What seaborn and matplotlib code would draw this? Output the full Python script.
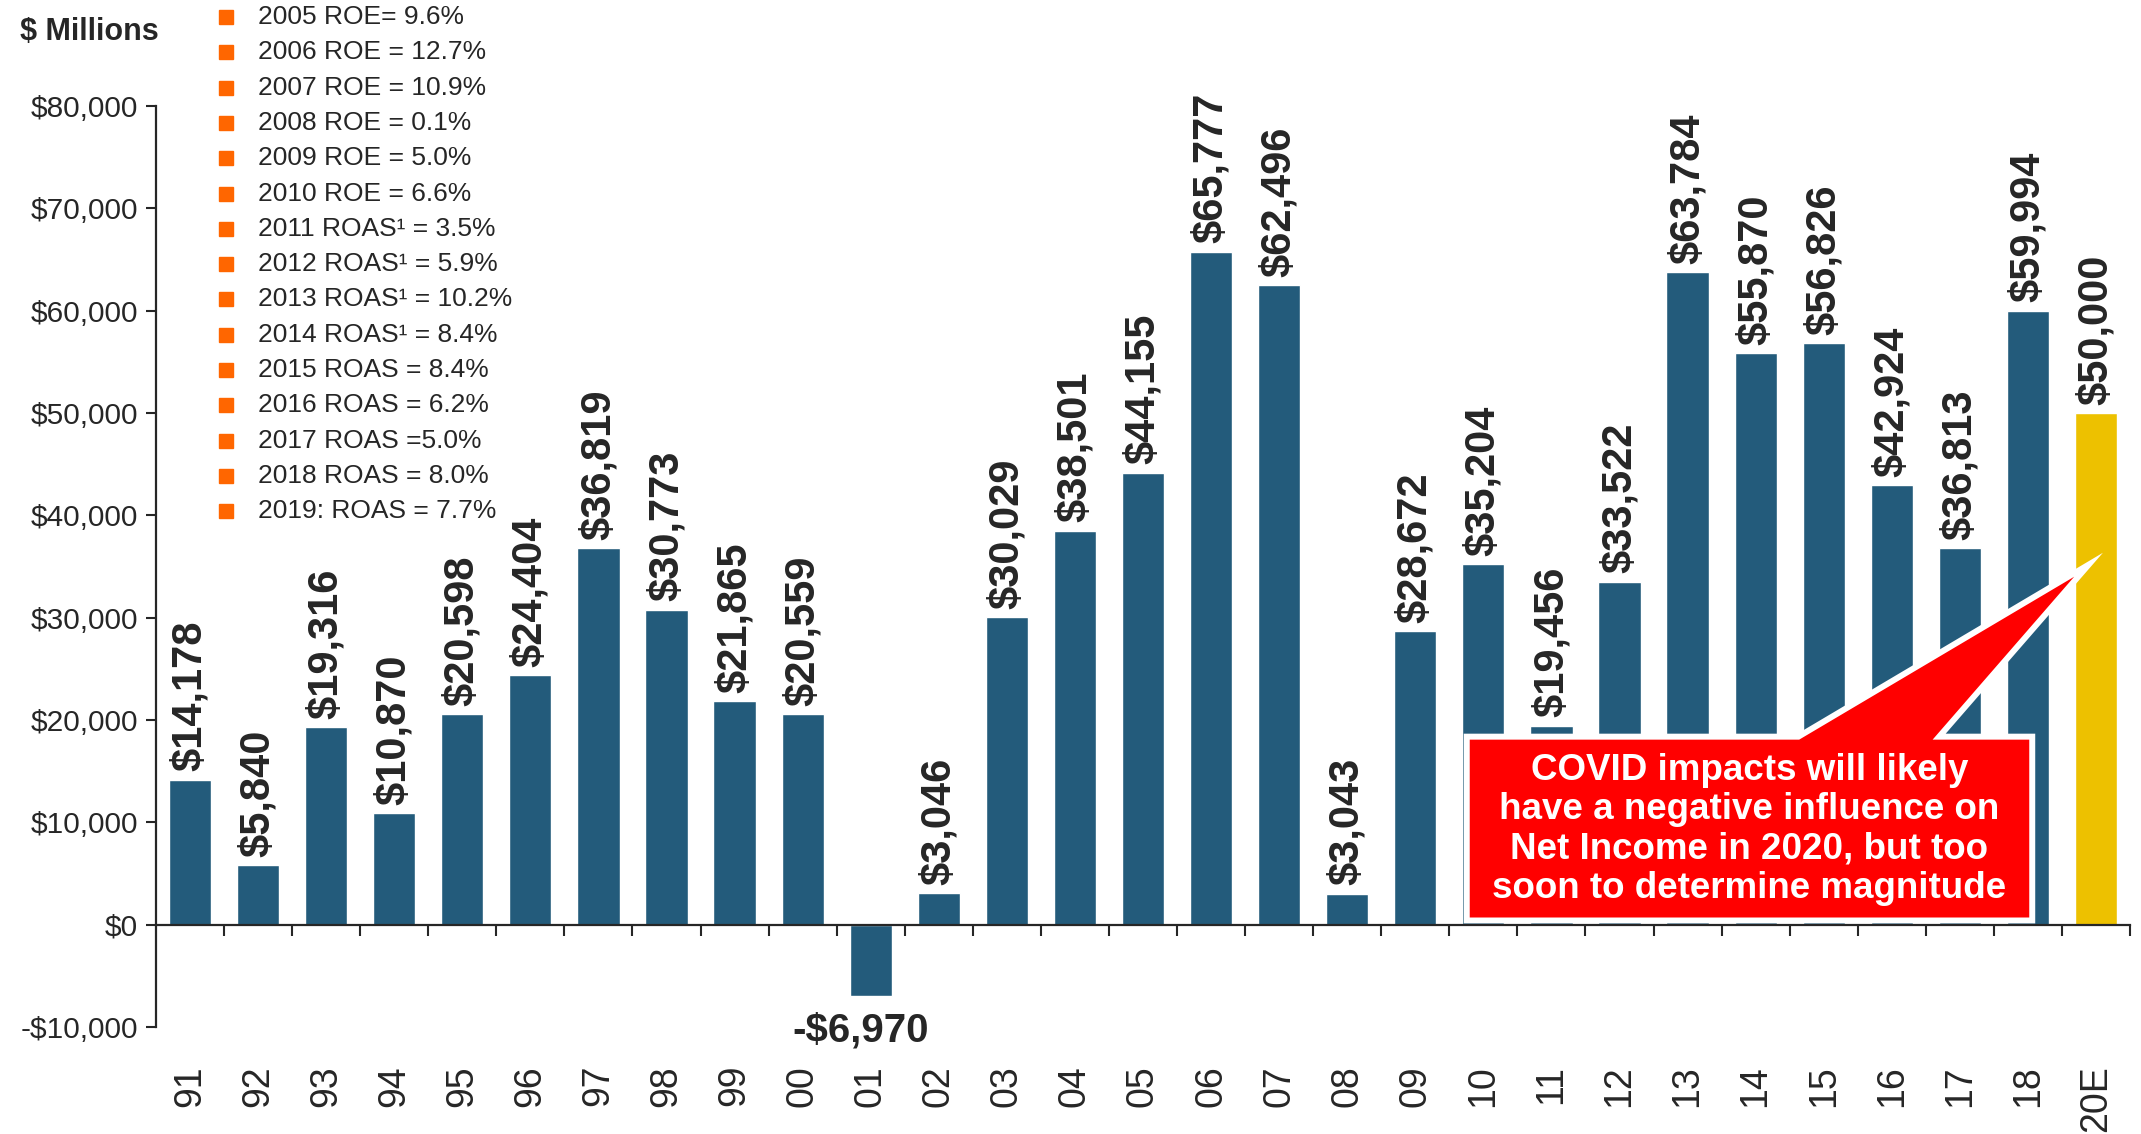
import matplotlib
matplotlib.use("Agg")
import matplotlib.pyplot as plt
from matplotlib.lines import Line2D
from matplotlib.patches import Polygon
from matplotlib.ticker import FixedLocator, FuncFormatter
import seaborn as sns

# data
years = ["91", "92", "93", "94", "95", "96", "97", "98", "99", "00",
         "01", "02", "03", "04", "05", "06", "07", "08", "09", "10",
         "11", "12", "13", "14", "15", "16", "17", "18", "20E"]
net_income = [14178, 5840, 19316, 10870, 20598, 24404, 36819, 30773, 21865, 20559,
              -6970, 3046, 30029, 38501, 44155, 65777, 62496, 3043, 28672, 35204,
              19456, 33522, 63784, 55870, 56826, 42924, 36813, 59994, 50000]
returns = ["2005 ROE= 9.6%", "2006 ROE = 12.7%", "2007 ROE = 10.9%",
           "2008 ROE = 0.1%", "2009 ROE = 5.0%", "2010 ROE = 6.6%",
           "2011 ROAS¹ = 3.5%", "2012 ROAS¹ = 5.9%", "2013 ROAS¹ = 10.2%",
           "2014 ROAS¹ = 8.4%", "2015 ROAS = 8.4%", "2016 ROAS = 6.2%",
           "2017 ROAS =5.0%", "2018 ROAS = 8.0%", "2019: ROAS = 7.7%"]
callout = ("COVID impacts will likely\nhave a negative influence on\n"
           "Net Income in 2020, but too\nsoon to determine magnitude")

blue = "#235B7B"
gold = "#EDC100"
bar_colors = [blue] * (len(years) - 1) + [gold]

sns.set_style("white")
plt.rcParams["font.family"] = ["Liberation Sans", "DejaVu Sans"]

W, H = 2141, 1134
fig = plt.figure(figsize=(W / 100, H / 100), dpi=100)
ax = fig.add_axes([156 / W, 1 - 1027 / H, (2130 - 156) / W, (1027 - 106) / H])

sns.barplot(x=years, y=net_income, hue=years, palette=bar_colors, legend=False,
            width=0.62, saturation=1, ax=ax, zorder=2)

ax.set_xlim(-0.5, len(years) - 0.5)
ax.set_ylim(-10000, 80000)

# axes styling
for s in ["top", "right"]:
    ax.spines[s].set_visible(False)
ax.spines["bottom"].set_position(("data", 0))
ax.spines["bottom"].set_linewidth(1.6)
ax.spines["left"].set_linewidth(1.6)
ax.spines["bottom"].set_zorder(8)

ax.yaxis.set_major_locator(FixedLocator(range(-10000, 80001, 10000)))
ax.yaxis.set_major_formatter(FuncFormatter(
    lambda v, p: f"-${abs(v):,.0f}" if v < 0 else f"${v:,.0f}"))
ax.tick_params(axis="y", direction="out", length=7, width=1.5, pad=6,
               labelsize=21.5, left=True)

ax.xaxis.set_minor_locator(FixedLocator([i + 0.5 for i in range(len(years))]))
ax.tick_params(axis="x", which="major", length=0, pad=101, labelsize=27,
               labelrotation=90)
ax.tick_params(axis="x", which="minor", direction="out", length=8, width=1.5,
               bottom=True)
ax.set_xlabel("")
ax.set_ylabel("")

# value labels
for i, v in enumerate(net_income):
    if v >= 0:
        ax.annotate(f"${v:,}", (i, v), xytext=(0, 6), textcoords="offset points",
                    rotation=90, ha="center", va="bottom", fontsize=30,
                    fontweight="bold")
    else:
        ax.annotate(f"-${abs(v):,}", (i, v), xytext=(-7, -11),
                    textcoords="offset points", ha="center", va="top",
                    fontsize=29, fontweight="bold")

# callout box with pointer to the 2020 estimate
shape = [(18.80, 700), (18.80, 18080), (23.64, 18080), (27.68, 34000),
         (25.60, 18080), (27.02, 18080), (27.02, 700)]
ax.add_patch(Polygon(shape, closed=True, facecolor="white", edgecolor="white",
                     linewidth=8.6, joinstyle="miter", zorder=5))
ax.add_patch(Polygon(shape, closed=True, facecolor="#FF0000", edgecolor="none",
                     zorder=6))
ax.text(22.91, 9300, callout, ha="center", va="center", color="white",
        fontsize=26.5, fontweight="bold", linespacing=1.15, zorder=7)

# header and return list
fig.text(20 / W, 1 - 32 / H, "$ Millions", fontsize=22, fontweight="bold",
         ha="left", va="center")
for k, lab in enumerate(returns):
    y = 1 - (17 + k * 35.3) / H
    fig.add_artist(Line2D([226 / W], [y], marker="s", markersize=10.5,
                          color="#FF6600", linestyle="none",
                          transform=fig.transFigure))
    fig.text(258 / W, y, lab, fontsize=19, ha="left", va="center")

plt.savefig("out.png", dpi=100)
